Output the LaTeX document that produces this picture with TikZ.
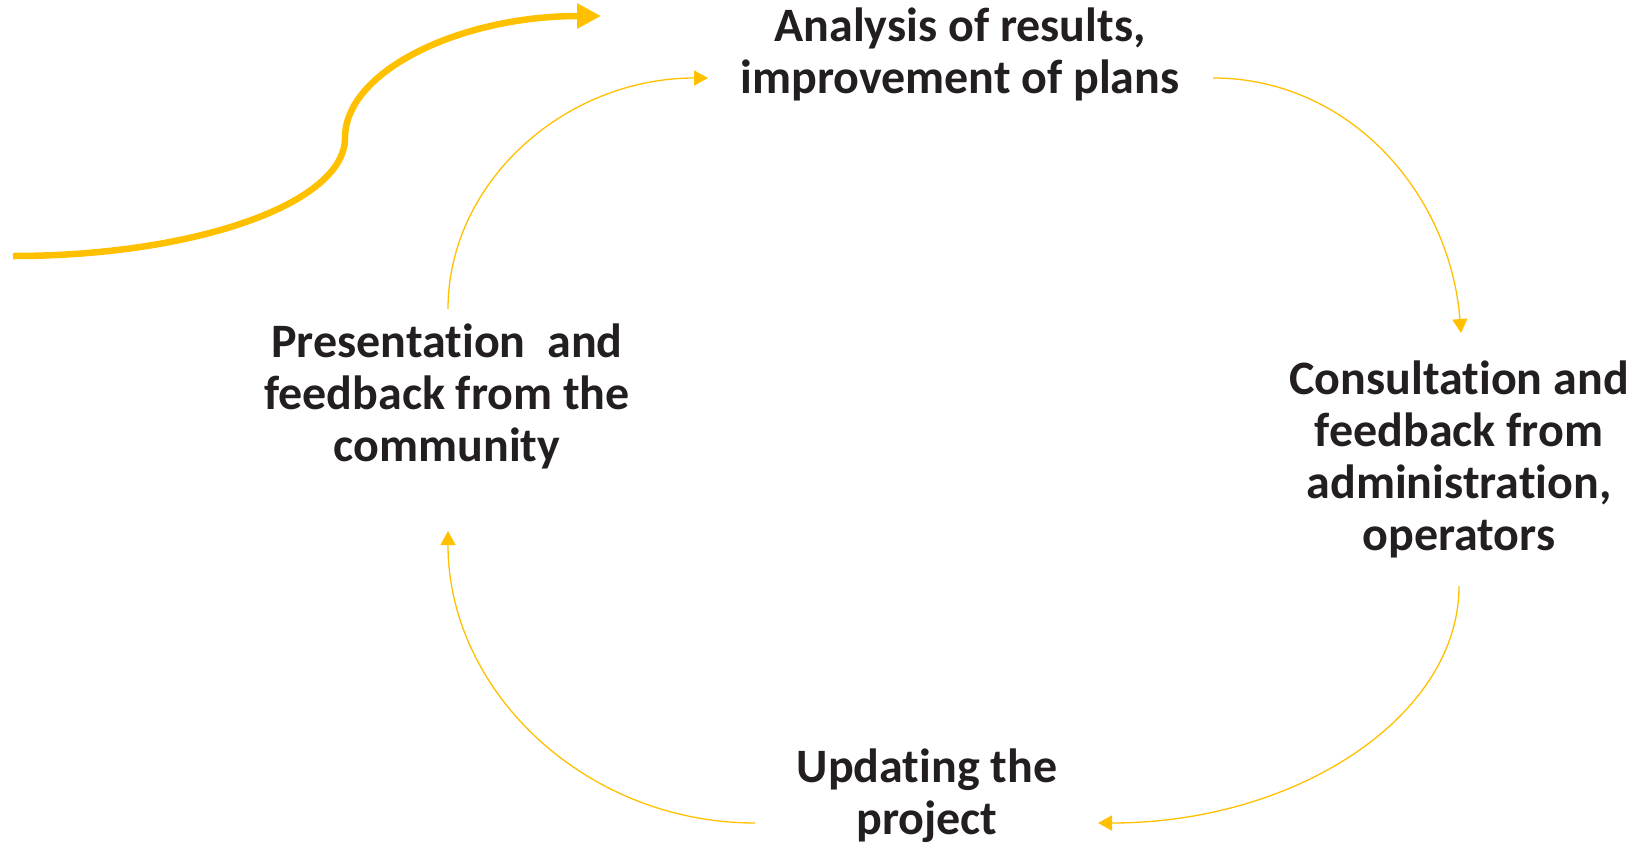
\documentclass[tikz,border=0pt]{standalone}
\usepackage{fontspec}
\setmainfont[Ligatures=NoCommon]{Carlito}
\usetikzlibrary{arrows.meta}
\definecolor{flow}{HTML}{FFC000}
\definecolor{ink}{HTML}{231F20}
\tikzset{
  stage/.style={align=center, inner sep=0pt, text=ink,
    font=\fontsize{48}{52}\selectfont\bfseries},
  cycle/.style={draw=flow, line width=1.3pt,
    -{Triangle[length=14pt,width=15pt]}},
  lead/.style={draw=flow, line width=6.5pt,
    -{Triangle[length=24pt,width=24pt]}}
}
\begin{document}
\begin{tikzpicture}[x=1pt,y=-1pt]
  \useasboundingbox (0,0) rectangle (1640,846);

  % the four stages of the cycle
  \node[stage] (analysis) at (960,54) {Analysis of results,\\improvement of plans};
  \node[stage] (consult) at (1459,459) {Consultation and\\feedback from\\administration,\\operators};
  \node[stage] (update) at (927,796) {Updating the\\project};
  \node[stage] (present) at (447,396) {Presentation\ \ and\\feedback from the\\community};

  % cycle connectors
  \draw[cycle] ([shift={(253,24)}]analysis.center)
    .. controls ([shift={(389,24)}]analysis.center) and ([shift={(-9,-266)}]consult.center)
    .. ([shift={(2,-126)}]consult.center);
  \draw[cycle] ([shift={(0,127)}]consult.center)
    .. controls ([shift={(0,257)}]consult.center) and ([shift={(370,27)}]update.center)
    .. ([shift={(171,27)}]update.center);
  \draw[cycle] ([shift={(-172,27)}]update.center)
    .. controls ([shift={(-341,27)}]update.center) and ([shift={(1,296)}]present.center)
    .. ([shift={(1,135)}]present.center);
  \draw[cycle] ([shift={(1,-87)}]present.center)
    .. controls ([shift={(1,-214)}]present.center) and ([shift={(-395,24)}]analysis.center)
    .. ([shift={(-252,24)}]analysis.center);

  % entry arrow leading into the cycle
  \coordinate (entry) at (13,256);
  \coordinate (bend) at (345,138);
  \coordinate (arrive) at (601,16);
  \draw[lead] (entry) .. controls (196,256) and (345,203) .. (bend)
    .. controls (345,71) and (460,16) .. (arrive);
\end{tikzpicture}
\end{document}
